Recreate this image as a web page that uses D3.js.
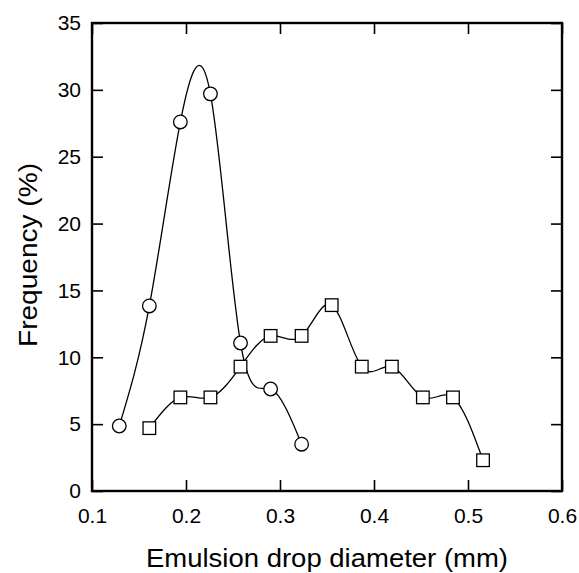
<!DOCTYPE html>
<html><head><meta charset="utf-8">
<script src="https://cdn.jsdelivr.net/npm/d3@7"></script>
<style>body{margin:0;background:#fff}svg{display:block}</style>
</head><body>
<svg id="c" width="579" height="573"></svg>
<script>
const circleX = [0.129, 0.161, 0.194, 0.226, 0.258, 0.290, 0.323];
const circleY = [4.86, 13.84, 27.6, 29.7, 11.07, 7.63, 3.5];
const squareX = [0.161, 0.194, 0.226, 0.258, 0.290, 0.323, 0.355, 0.387, 0.419, 0.452, 0.484, 0.516];
const squareY = [4.7, 7.0, 7.0, 9.3, 11.6, 11.6, 13.9, 9.3, 9.3, 7.0, 7.0, 2.3];
const xTicks = [0.1, 0.2, 0.3, 0.4, 0.5, 0.6];
const yTicks = [0, 5, 10, 15, 20, 25, 30, 35];

const L = 92, R = 562, T = 23, B = 491;
const svg = d3.select("#c");
const x = d3.scaleLinear().domain([0.1, 0.6]).range([L, R]);
const y = d3.scaleLinear().domain([0, 35]).range([B, T]);
const font = "'Liberation Sans', Arial, Helvetica, sans-serif";

const tl = 11;
svg.append("g").attr("transform", `translate(0,${B})`)
  .call(d3.axisBottom(x).tickValues(xTicks).tickSizeInner(-tl).tickSizeOuter(0).tickPadding(17).tickFormat(d3.format(".1f")))
  .call(g => { g.select(".domain").remove(); g.selectAll("text").attr("font-size", 21).attr("font-family", font).attr("fill", "#000"); });
svg.append("g").attr("transform", `translate(${L},0)`)
  .call(d3.axisLeft(y).tickValues(yTicks).tickSizeInner(-tl).tickSizeOuter(0).tickPadding(11).tickFormat(d3.format("d")))
  .call(g => { g.select(".domain").remove(); g.selectAll("text").attr("font-size", 21).attr("font-family", font).attr("fill", "#000"); });
svg.append("g").attr("transform", `translate(0,${T})`)
  .call(d3.axisTop(x).tickValues(xTicks).tickSizeInner(-tl).tickSizeOuter(0).tickFormat(""))
  .call(g => g.select(".domain").remove());
svg.append("g").attr("transform", `translate(${R},0)`)
  .call(d3.axisRight(y).tickValues(yTicks).tickSizeInner(-tl).tickSizeOuter(0).tickFormat(""))
  .call(g => g.select(".domain").remove());
svg.selectAll(".tick line").attr("stroke", "#000").attr("stroke-width", 1.6);

svg.append("rect").attr("x", L).attr("y", T).attr("width", R - L).attr("height", B - T)
  .attr("fill", "none").attr("stroke", "#000").attr("stroke-width", 2.4);

const line = d3.line().x(d => x(d[0])).y(d => y(d[1])).curve(d3.curveNatural);
const cData = circleX.map((v, i) => [v, circleY[i]]);
const sData = squareX.map((v, i) => [v, squareY[i]]);
svg.append("path").attr("d", line(cData)).attr("fill", "none").attr("stroke", "#000").attr("stroke-width", 1.3);
svg.append("path").attr("d", line(sData)).attr("fill", "none").attr("stroke", "#000").attr("stroke-width", 1.3);

svg.selectAll("circle.pt").data(cData).join("circle").attr("class", "pt")
  .attr("cx", d => x(d[0])).attr("cy", d => y(d[1])).attr("r", 6.8)
  .attr("fill", "#fff").attr("stroke", "#000").attr("stroke-width", 1.3);
const s = 12.6;
svg.selectAll("rect.pt").data(sData).join("rect").attr("class", "pt")
  .attr("x", d => x(d[0]) - s / 2).attr("y", d => y(d[1]) - s / 2).attr("width", s).attr("height", s)
  .attr("fill", "#fff").attr("stroke", "#000").attr("stroke-width", 1.3);

svg.append("text").attr("x", 327).attr("y", 567).attr("text-anchor", "middle")
  .attr("font-family", font).attr("font-size", 26)
  .attr("textLength", 362).attr("lengthAdjust", "spacingAndGlyphs").text("Emulsion drop diameter (mm)");
svg.append("text").attr("transform", `translate(37,255) rotate(-90)`).attr("text-anchor", "middle")
  .attr("font-family", font).attr("font-size", 26)
  .attr("textLength", 184).attr("lengthAdjust", "spacingAndGlyphs").text("Frequency (%)");
</script>
</body></html>
